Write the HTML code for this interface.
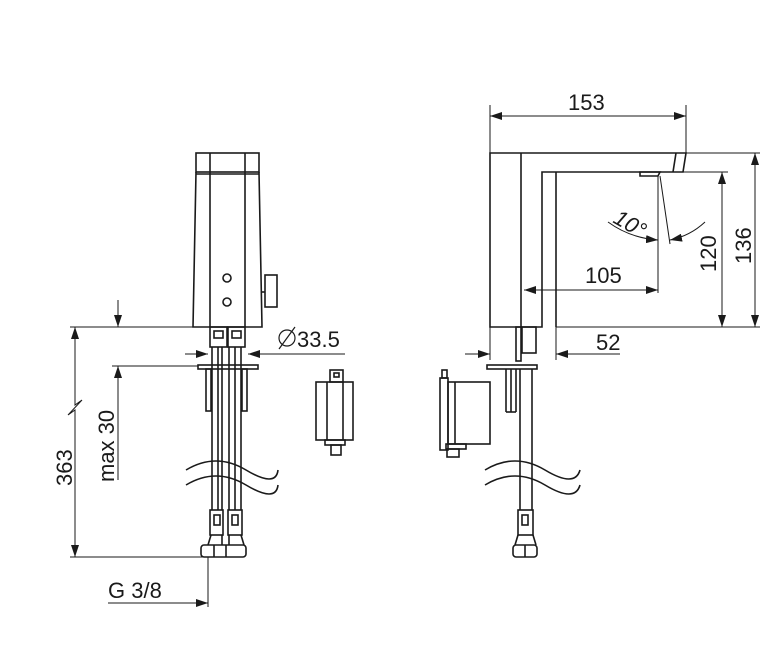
<!DOCTYPE html>
<html><head><meta charset="utf-8"><style>
html,body{margin:0;padding:0;background:#fff;width:779px;height:646px;overflow:hidden}
text{font-family:"Liberation Sans",sans-serif;font-size:22px;fill:#1a1a1a}
</style></head><body>
<svg width="779" height="646" viewBox="0 0 779 646" xmlns="http://www.w3.org/2000/svg">
<defs>
<marker id="a" viewBox="0 0 12 8" refX="12" refY="4" markerWidth="12" markerHeight="8" orient="auto-start-reverse" markerUnits="userSpaceOnUse"><path d="M0,0 L12,4 L0,8 z" fill="#1a1a1a"/></marker>
</defs>
<g fill="none" stroke="#1a1a1a" stroke-width="1.6">
<rect x="196" y="153" width="63" height="19"/>
<path d="M196,172 L193,327 L262,327 L259,172"/>
<line x1="210" y1="153" x2="210" y2="327"/><line x1="245" y1="153" x2="245" y2="327"/>
<line x1="196" y1="174" x2="259" y2="174"/>
<circle cx="227" cy="278" r="4"/><circle cx="227" cy="302" r="4"/>
<rect x="265" y="275" width="12" height="32"/><line x1="262" y1="292" x2="265" y2="292"/>
<rect x="210" y="327" width="17" height="20"/><rect x="228" y="327" width="17" height="20"/>
<rect x="214" y="331" width="9" height="7"/><rect x="232" y="331" width="9" height="7"/>
<rect x="198" y="365" width="60" height="4"/>
<rect x="206" y="369" width="5" height="42"/><rect x="242" y="369" width="5" height="42"/>
<line x1="212" y1="347" x2="212" y2="510"/><line x1="218" y1="347" x2="218" y2="510"/>
<line x1="229" y1="347" x2="229" y2="510"/><line x1="235" y1="347" x2="235" y2="510"/>
<line x1="222" y1="347" x2="222" y2="510"/><line x1="241" y1="347" x2="241" y2="510"/>
<rect x="210" y="510" width="13" height="25"/><rect x="228" y="510" width="14" height="25"/>
<rect x="214" y="515" width="6" height="10"/><rect x="232" y="515" width="6" height="10"/>
<path d="M211,535 L208,545 M222,535 L222,545 M229,535 L229,545 M241,535 L244,545"/>
<rect x="201" y="545" width="45" height="12" rx="3"/>
<line x1="214" y1="545" x2="214" y2="557"/><line x1="226" y1="545" x2="226" y2="557"/>
<path d="M186,470 Q216,452 246,470 T278,470"/>
<path d="M186,485 Q216,467 246,485 T278,485"/>
<line x1="70" y1="327" x2="194" y2="327" stroke-width="1"/>
<line x1="112" y1="366" x2="198" y2="366" stroke-width="1"/>
<line x1="70" y1="557" x2="205" y2="557" stroke-width="1"/>
<line x1="118" y1="300" x2="118" y2="327" stroke-width="1" marker-end="url(#a)"/>
<line x1="118" y1="480" x2="118" y2="366" stroke-width="1" marker-end="url(#a)"/>
<path d="M75,327 L75,405 L82,400 L68,415 L75,410 L75,557" stroke-width="1"/>
<line x1="75" y1="340" x2="75" y2="327" stroke-width="1" marker-end="url(#a)"/>
<line x1="75" y1="545" x2="75" y2="557" stroke-width="1" marker-end="url(#a)"/>
<line x1="208" y1="557" x2="208" y2="607" stroke-width="1"/>
<line x1="108" y1="603" x2="208" y2="603" stroke-width="1" marker-end="url(#a)"/>
<line x1="185" y1="354" x2="208" y2="354" stroke-width="1" marker-end="url(#a)"/>
<line x1="345" y1="354" x2="248" y2="354" stroke-width="1" marker-end="url(#a)"/>
<circle cx="287" cy="338" r="8" stroke-width="1.2"/><line x1="279" y1="349" x2="295" y2="327" stroke-width="1.2"/>
<rect x="316" y="382" width="37" height="58"/>
<line x1="327" y1="382" x2="327" y2="440"/><line x1="343" y1="382" x2="343" y2="440"/>
<rect x="330" y="370" width="13" height="12"/><rect x="334" y="373" width="5" height="4"/>
<rect x="325" y="440" width="20" height="5"/><rect x="331" y="445" width="10" height="10"/>
<path d="M490,153 L686,153 L683,172 L542,172 L542,327 L490,327 Z"/>
<line x1="521" y1="153" x2="521" y2="327"/>
<line x1="556" y1="172" x2="556" y2="327"/>
<line x1="676" y1="153" x2="673" y2="172"/>
<path d="M640,172 L660,172 L658,176 L640,176 Z"/>
<rect x="516" y="327" width="5" height="34"/><rect x="522" y="327" width="14" height="26"/>
<rect x="487" y="365" width="50" height="4"/>
<line x1="506" y1="369" x2="506" y2="412"/><line x1="511" y1="369" x2="511" y2="412"/><line x1="506" y1="412" x2="516" y2="412"/><line x1="516" y1="369" x2="516" y2="412"/>
<line x1="520" y1="369" x2="520" y2="510"/><line x1="532" y1="369" x2="532" y2="510"/>
<rect x="518" y="510" width="15" height="25"/><rect x="522" y="515" width="6" height="10"/>
<rect x="513" y="545" width="24" height="12" rx="3"/><line x1="525" y1="545" x2="525" y2="557"/>
<line x1="518" y1="535" x2="515" y2="545"/><line x1="533" y1="535" x2="536" y2="545"/>
<path d="M485,470 Q515,452 545,470 T580,470"/>
<path d="M485,485 Q515,467 545,485 T580,485"/>
<rect x="440" y="378" width="8" height="72"/><rect x="442" y="370" width="5" height="8"/>
<rect x="448" y="382" width="42" height="62"/><line x1="455" y1="382" x2="455" y2="444"/>
<rect x="446" y="444" width="20" height="5"/><rect x="447" y="449" width="12" height="8"/>
<line x1="490" y1="105" x2="490" y2="153" stroke-width="1"/>
<line x1="686" y1="105" x2="686" y2="153" stroke-width="1"/>
<line x1="490" y1="116" x2="686" y2="116" stroke-width="1" marker-start="url(#a)" marker-end="url(#a)"/>
<line x1="686" y1="153" x2="760" y2="153" stroke-width="1"/>
<line x1="660" y1="172" x2="728" y2="172" stroke-width="1"/>
<line x1="556" y1="327" x2="760" y2="327" stroke-width="1"/>
<line x1="722" y1="172" x2="722" y2="327" stroke-width="1" marker-start="url(#a)" marker-end="url(#a)"/>
<line x1="755" y1="153" x2="755" y2="327" stroke-width="1" marker-start="url(#a)" marker-end="url(#a)"/>
<line x1="658" y1="176" x2="658" y2="293" stroke-width="1"/>
<line x1="660" y1="176" x2="670" y2="244" stroke-width="1"/>
<line x1="524" y1="290" x2="658" y2="290" stroke-width="1" marker-start="url(#a)" marker-end="url(#a)"/>
<path d="M608,222 Q630,238 658,240" stroke-width="1" marker-end="url(#a)"/>
<path d="M705,222 Q690,236 670,240" stroke-width="1" marker-end="url(#a)"/>
<line x1="465" y1="354" x2="490" y2="354" stroke-width="1" marker-end="url(#a)"/>
<line x1="620" y1="354" x2="556" y2="354" stroke-width="1" marker-end="url(#a)"/>
<line x1="490" y1="327" x2="490" y2="360" stroke-width="1"/>
<line x1="556" y1="327" x2="556" y2="360" stroke-width="1"/>
</g>
<text x="297" y="347">33.5</text>
<text x="108" y="598">G 3/8</text>
<text transform="translate(72,486) rotate(-90)">363</text>
<text transform="translate(114,482) rotate(-90)">max  30</text>
<line x1="118" y1="400" x2="118" y2="480" stroke="#1a1a1a" stroke-width="1"/>
<text x="568" y="110">153</text>
<text x="585" y="283">105</text>
<text x="596" y="350">52</text>
<text transform="translate(716,272) rotate(-90)">120</text>
<text transform="translate(751,264) rotate(-90)">136</text>
<text transform="translate(612,222) rotate(30)" style="font-style:italic">10°</text>
</svg>
</body></html>
